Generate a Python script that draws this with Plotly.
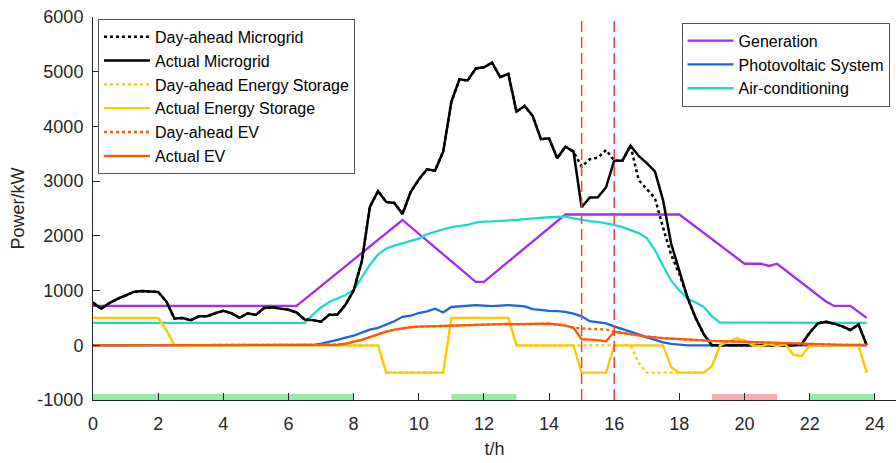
import plotly.graph_objects as go

# ---------------- data ----------------
# 15-minute sampling for the microgrid exchange power
t_q = [i * 0.25 for i in range(96)]

actual_microgrid = [
    780, 670, 770, 850, 910, 975, 990, 985, 975, 800, 490, 500,
    460, 530, 530, 585, 630, 585, 500, 585, 555, 680, 695, 670,
    650, 600, 470, 460, 430, 560, 560, 740, 1000, 1530, 2530, 2820,
    2620, 2600, 2400, 2800, 3030, 3217, 3192, 3540, 4450, 4860, 4840, 5060,
    5080, 5165, 4900, 4960, 4270, 4375, 4190, 3766, 3784, 3418, 3630, 3540,
    2523, 2700, 2705, 2888, 3375, 3375, 3649, 3460, 3330, 3180, 2650, 1850,
    1350, 870, 500, 200, 0, 0, 0, 0, 0, 0, 0, 0,
    0, 0, 0, 20, 230, 400, 430, 395, 345, 280, 380, 0,
]
dayahead_microgrid = [
    780, 670, 770, 850, 910, 975, 990, 985, 975, 800, 490, 500,
    460, 530, 530, 585, 630, 585, 500, 585, 555, 680, 695, 670,
    650, 600, 470, 460, 430, 560, 560, 740, 1000, 1530, 2530, 2820,
    2620, 2600, 2400, 2800, 3030, 3217, 3192, 3540, 4450, 4860, 4840, 5060,
    5080, 5165, 4900, 4960, 4270, 4375, 4190, 3766, 3784, 3418, 3630, 3540,
    3265, 3400, 3430, 3570, 3375, 3375, 3649, 3020, 2860, 2690, 2150, 1650,
    1300, 870, 500, 200, 0, 0, 0, 0, 0, 0, 0, 0,
    0, 0, 0, 20, 230, 400, 430, 395, 345, 280, 380, 0,
]

# energy storage (charge > 0, discharge < 0)
t_storage = [0, 2.0, 2.25, 2.5, 8.75, 9.0, 10.75, 11.0, 12.75, 13.0, 14.75, 15.0,
             15.75, 16.0, 16.5, 16.75, 17.0, 17.5, 17.75, 18.0, 18.75, 19.0, 19.25,
             19.5, 19.75, 20.0, 20.25, 20.5, 20.75, 21.0, 21.25, 21.5, 21.75, 22.0,
             22.25, 23.5, 23.75]
actual_storage = [500, 500, 280, 0, 0, -500, -500, 500, 500, 0, 0, -500,
                  -500, 0, 0, 0, 0, 0, -400, -500, -500, -380, 0,
                  70, 125, 90, 0, -15, 20, -10, 20, -170, -195, -10,
                  0, 0, -500]
dayahead_storage = [500, 500, 280, 0, 0, -500, -500, 500, 500, 0, 0, 0,
                    0, 0, 0, -320, -500, -500, -500, -500, -500, -380, 0,
                    70, 125, 90, 0, -15, 20, -10, 20, -170, -195, -10,
                    0, 0, -500]

# electric vehicles
t_ev = [0, 7.25, 7.5, 7.75, 8.0, 8.25, 8.5, 8.75, 9.0, 9.25, 9.5, 9.75, 10.0,
        10.5, 11.0, 11.5, 12.0, 12.5, 12.75, 13.0, 13.25, 13.5, 13.75, 14.0,
        14.25, 14.5, 14.75, 15.0, 15.25, 15.5, 15.75, 16.0, 16.5, 17.0, 17.5,
        18.0, 18.5, 19.0, 19.5, 20.0, 21.0, 22.0, 23.0, 23.75]
actual_ev = [0, 0, 10, 30, 60, 100, 150, 200, 250, 285, 310, 330, 340,
             350, 355, 365, 375, 385, 390, 385, 390, 385, 400, 395,
             380, 360, 320, 110, 105, 95, 70, 250, 205, 160, 130,
             110, 95, 80, 70, 60, 40, 20, 8, 5]
dayahead_ev = [0, 0, 10, 30, 60, 100, 150, 200, 250, 285, 310, 330, 340,
               350, 355, 365, 375, 385, 390, 385, 390, 385, 400, 395,
               380, 360, 320, 305, 300, 295, 290, 250, 205, 160, 130,
               110, 95, 80, 70, 60, 40, 20, 8, 5]

# generation unit output
t_gen = [0, 6.25, 9.5, 11.75, 12.0, 14.5, 18.0, 20.0, 20.5, 20.75, 21.0, 22.5,
         22.75, 23.25, 23.75]
generation = [720, 720, 2290, 1160, 1160, 2390, 2390, 1490, 1490, 1450, 1490, 800,
              720, 720, 500]

# photovoltaic output
t_pv = [0, 6.5, 6.75, 7.0, 7.25, 7.5, 7.75, 8.0, 8.25, 8.5, 8.75, 9.0, 9.25,
        9.5, 9.75, 10.0, 10.25, 10.5, 10.75, 11.0, 11.25, 11.5, 11.75, 12.0,
        12.25, 12.5, 12.75, 13.0, 13.25, 13.5, 13.75, 14.0, 14.25, 14.5, 14.75,
        15.0, 15.25, 15.5, 15.75, 16.0, 16.25, 16.5, 16.75, 17.0, 17.25, 17.5,
        17.75, 18.0, 18.25, 23.75]
pv = [0, 0, 5, 30, 60, 100, 140, 175, 230, 285, 320, 380, 440,
      520, 540, 590, 620, 670, 600, 700, 715, 730, 735, 725,
      715, 725, 735, 725, 710, 660, 640, 630, 625, 610, 580,
      530, 440, 420, 400, 345, 300, 250, 200, 145, 95, 55,
      25, 8, 0, 0]

# air-conditioning load
t_ac = [0, 6.5, 6.75, 7.0, 7.25, 7.5, 7.75, 8.0, 8.25, 8.5, 8.75, 9.0, 9.25,
        9.5, 9.75, 10.0, 10.25, 10.5, 10.75, 11.0, 11.25, 11.5, 11.75, 12.0,
        12.25, 12.5, 12.75, 13.0, 13.25, 13.5, 13.75, 14.0, 14.25, 14.5, 14.75,
        15.0, 15.25, 15.5, 15.75, 16.0, 16.25, 16.5, 16.75, 17.0, 17.25, 17.5,
        17.75, 18.0, 18.25, 18.5, 18.75, 19.0, 19.25, 23.75]
air_conditioning = [410, 410, 560, 690, 790, 860, 920, 1010, 1230, 1470, 1660, 1770, 1820,
                    1860, 1900, 1950, 2030, 2080, 2120, 2160, 2180, 2200, 2240, 2260,
                    2265, 2270, 2280, 2290, 2305, 2320, 2330, 2340, 2345, 2350, 2320,
                    2290, 2270, 2255, 2230, 2200, 2160, 2110, 2050, 1960, 1740, 1450,
                    1180, 1000, 860, 780, 700, 530, 415, 410]

# price periods marked along the time axis
period_start = [0, 11, 19, 22]
period_end = [8, 13, 21, 24]
period_type = ["valley", "valley", "peak", "valley"]

# event window
event_times = [15, 16]

x_ticks = list(range(0, 25, 2))
y_ticks = list(range(-1000, 6001, 1000))
y_tick_text = [str(v) for v in y_ticks]  # plain hyphen for negatives

# ---------------- styling ----------------
FONT = "Liberation Sans, Arial, Helvetica, sans-serif"
AXIS_COLOR = "#262626"
C_BLACK = "#000000"
C_YELLOW = "#FFC800"
C_ORANGE = "#FF5A00"
C_PURPLE = "#A22DF0"
C_BLUE = "#1A64E6"
C_CYAN = "#1ED8CF"
LW = 2.3

fig = go.Figure()


def add_line(x, y, name, color, dash="solid", legend="legend", width=LW):
    fig.add_trace(go.Scatter(
        x=x, y=y, mode="lines", name=name,
        line=dict(color=color, width=width, dash=dash),
        legend=legend,
    ))


# second legend group drawn first (underneath)
add_line(t_gen, generation, "Generation", C_PURPLE, legend="legend2")
add_line(t_pv, pv, "Photovoltaic System", C_BLUE, legend="legend2")
add_line(t_ac, air_conditioning, "Air-conditioning", C_CYAN, legend="legend2")

add_line(t_q, dayahead_microgrid, "Day-ahead Microgrid", C_BLACK, dash="dot", width=2.5)
add_line(t_q, actual_microgrid, "Actual Microgrid", C_BLACK, width=2.5)
add_line(t_storage, dayahead_storage, "Day-ahead Energy Storage", C_YELLOW, dash="dot")
add_line(t_storage, actual_storage, "Actual Energy Storage", C_YELLOW)
add_line(t_ev, dayahead_ev, "Day-ahead EV", C_ORANGE, dash="dot")
add_line(t_ev, actual_ev, "Actual EV", C_ORANGE)

# shaded period markers along the bottom
band_colors = {"valley": "rgba(130,230,150,0.85)", "peak": "rgba(247,165,165,0.9)"}
for x0, x1, kind in zip(period_start, period_end, period_type):
    fig.add_shape(type="rect", xref="x", yref="y", x0=x0, x1=x1, y0=-1000, y1=-890,
                  fillcolor=band_colors[kind], line=dict(width=0), layer="below")

# event window boundaries
for te in event_times:
    fig.add_shape(type="line", xref="x", yref="y", x0=te, x1=te, y0=-1000, y1=6000,
                  line=dict(color="#FF3B3B", width=1.5, dash="11px,5px"), layer="above")

axis_common = dict(
    showline=True, linecolor=AXIS_COLOR, linewidth=1,
    ticks="inside", ticklen=7, tickcolor=AXIS_COLOR, tickwidth=1,
    showgrid=False, zeroline=False, mirror=False,
    tickfont=dict(family=FONT, size=18, color=AXIS_COLOR),
)

LEG_FONT = dict(family=FONT, size=16, color="#000000")

fig.update_layout(
    width=896, height=463,
    margin=dict(l=93, r=0, t=17, b=63, autoexpand=False),
    paper_bgcolor="white", plot_bgcolor="white",
    font=dict(family=FONT, size=17, color="#000000"),
    xaxis=dict(range=[0, 24.65], tickvals=x_ticks, ticklabelstandoff=7,
               title=dict(text="t/h", font=dict(family=FONT, size=18, color=AXIS_COLOR),
                          standoff=9),
               **axis_common),
    yaxis=dict(range=[-1000, 6000], tickvals=y_ticks, ticktext=y_tick_text,
               ticklabelstandoff=5,
               title=dict(text="Power/kW", font=dict(family=FONT, size=18, color=AXIS_COLOR),
                          standoff=8),
               **axis_common),
    legend=dict(
        x=0.0062, y=0.995, xanchor="left", yanchor="top",
        bgcolor="white", bordercolor="#555555", borderwidth=1,
        font=LEG_FONT, itemwidth=46, tracegroupgap=0,
    ),
    legend2=dict(
        x=0.733, y=0.985, xanchor="left", yanchor="top",
        bgcolor="white", bordercolor="#555555", borderwidth=1,
        font=LEG_FONT, itemwidth=46, tracegroupgap=0,
    ),
    showlegend=True,
)

fig.write_html("out.html")
